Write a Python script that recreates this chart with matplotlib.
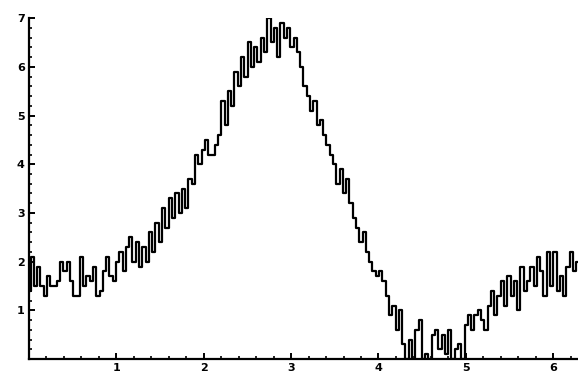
import numpy as np
import matplotlib
matplotlib.use("Agg")
import matplotlib.pyplot as plt
from matplotlib.ticker import MultipleLocator, FixedLocator

y_values = [
    1.4, 2.1, 1.5, 1.9, 1.5, 1.3, 1.7, 1.5, 1.5, 1.6,
    2.0, 1.8, 2.0, 1.6, 1.3, 1.3, 2.1, 1.5, 1.7, 1.6,
    1.9, 1.3, 1.4, 1.8, 2.1, 1.7, 1.6, 2.0, 2.2, 1.8,
    2.3, 2.5, 2.0, 2.4, 1.9, 2.3, 2.0, 2.6, 2.2, 2.8,
    2.4, 3.1, 2.7, 3.3, 2.9, 3.4, 3.0, 3.5, 3.1, 3.7,
    3.6, 4.2, 4.0, 4.3, 4.5, 4.2, 4.2, 4.4, 4.6, 5.3,
    4.8, 5.5, 5.2, 5.9, 5.6, 6.2, 5.8, 6.5, 6.0, 6.4,
    6.1, 6.6, 6.3, 7.0, 6.5, 6.8, 6.2, 6.9, 6.6, 6.8,
    6.4, 6.6, 6.3, 6.0, 5.6, 5.4, 5.1, 5.3, 4.8, 4.9,
    4.6, 4.4, 4.2, 4.0, 3.6, 3.9, 3.4, 3.7, 3.2, 2.9,
    2.7, 2.4, 2.6, 2.2, 2.0, 1.8, 1.7, 1.8, 1.6, 1.3,
    0.9, 1.1, 0.6, 1.0, 0.3, 0.0, 0.4, 0.0, 0.6, 0.8,
    0.0, 0.1, 0.0, 0.5, 0.6, 0.2, 0.5, 0.1, 0.6, 0.0,
    0.2, 0.3, 0.0, 0.7, 0.9, 0.6, 0.9, 1.0, 0.8, 0.6,
    1.1, 1.4, 0.9, 1.3, 1.6, 1.1, 1.7, 1.3, 1.6, 1.0,
    1.9, 1.4, 1.6, 1.9, 1.5, 2.1, 1.8, 1.3, 2.2, 1.5,
    2.2, 1.4, 1.7, 1.3, 1.9, 2.2, 1.8, 2.0,
]
x_values = np.linspace(0, 2 * np.pi, len(y_values))

x_tick_labels = ["1", "2", "3", "4", "5", "6"]
y_tick_labels = ["1", "2", "3", "4", "5", "6", "7"]

fig = plt.figure(figsize=(5.78, 3.78), dpi=100)
ax = fig.add_axes([0.05, 0.05, 0.95, 0.902])
ax.plot(x_values, y_values, color="black", linewidth=1.6, drawstyle="steps-mid",
        clip_on=True)

ax.set_xlim(0, 2 * np.pi)
ax.set_ylim(0, 7)

for side in ["top", "right"]:
    ax.spines[side].set_visible(False)
for side in ["left", "bottom"]:
    ax.spines[side].set_linewidth(1.6)

ax.xaxis.set_major_locator(FixedLocator([1, 2, 3, 4, 5, 6]))
ax.yaxis.set_major_locator(FixedLocator([1, 2, 3, 4, 5, 6, 7]))
ax.xaxis.set_minor_locator(MultipleLocator(0.2))
ax.yaxis.set_minor_locator(MultipleLocator(0.2))
ax.set_xticklabels(x_tick_labels)
ax.set_yticklabels(y_tick_labels)

ax.tick_params(which="major", direction="in", length=4, width=1.4,
               labelsize=8, pad=3)
ax.tick_params(which="minor", direction="in", length=2.5, width=1.2)
for lbl in ax.get_xticklabels() + ax.get_yticklabels():
    lbl.set_fontweight("bold")

fig.savefig("out.png", dpi=100)
